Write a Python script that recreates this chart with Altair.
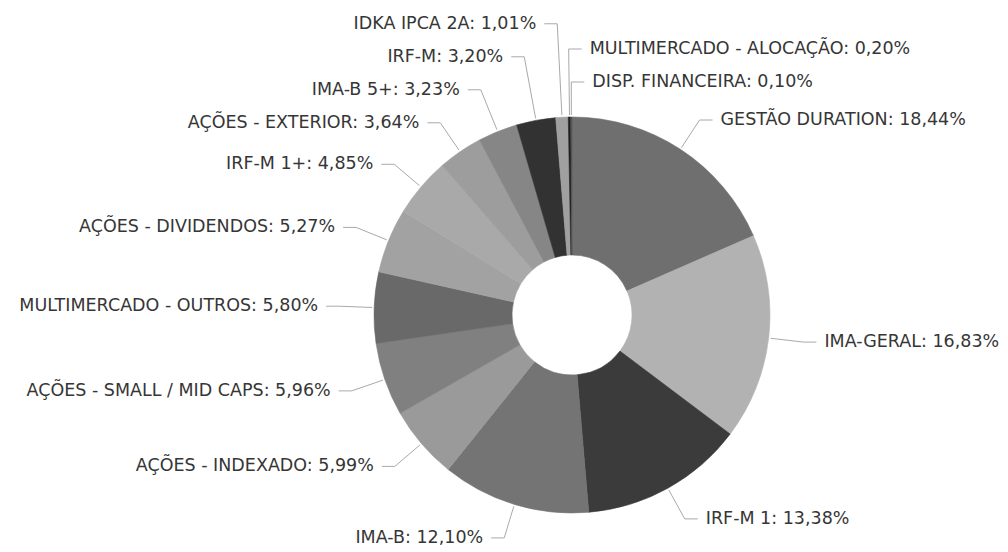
import math
import altair as alt
import pandas as pd

# ---- data ----
names = [
    "GESTÃO DURATION", "IMA-GERAL", "IRF-M 1", "IMA-B", "AÇÕES - INDEXADO",
    "AÇÕES - SMALL / MID CAPS", "MULTIMERCADO - OUTROS", "AÇÕES - DIVIDENDOS",
    "IRF-M 1+", "AÇÕES - EXTERIOR", "IMA-B 5+", "IRF-M", "IDKA IPCA 2A",
    "MULTIMERCADO - ALOCAÇÃO", "DISP. FINANCEIRA",
]
values = [18.44, 16.83, 13.38, 12.10, 5.99, 5.96, 5.80, 5.27, 4.85, 3.64, 3.23, 3.20, 1.01, 0.20, 0.10]
shades = [
    "#6f6f6f", "#b2b2b2", "#3b3b3b", "#747474", "#9a9a9a",
    "#808080", "#696969", "#a2a2a2", "#a9a9a9", "#9d9d9d",
    "#868686", "#323232", "#a0a0a0", "#1e1e1e", "#555555",
]

# ---- layout constants ----
W, H = 1008, 552
CX, CY = 572, 315          # donut centre in pixels
R_OUT, R_IN = 198, 60
R_ANCHOR, R_ELBOW = 200, 233
GAP, HSEG, PAD = 33, 13, 8

total = sum(values)
rows = []
cum = 0.0
for i, (n, v) in enumerate(zip(names, values)):
    mid = (cum + v / 2) / total * 2 * math.pi
    cum += v
    s, c = math.sin(mid), math.cos(mid)
    side = "right" if s > -0.02 else "left"
    key = (mid if mid < math.pi else mid - 2 * math.pi) if side == "right" else mid
    rows.append(dict(idx=i, name=n, value=v, s=s, c=c, side=side, key=key,
                     ax=R_ANCHOR * s, ay=R_ANCHOR * c,
                     ex=R_ELBOW * s, ey=R_ELBOW * c))

# push overlapping labels upward (bottom -> top on each side)
for side, rev in (("left", False), ("right", True)):
    grp = sorted([r for r in rows if r["side"] == side], key=lambda r: r["key"], reverse=rev)
    prev = None
    for r in grp:
        if prev is not None and r["ey"] < prev + GAP:
            new = prev + GAP
            if abs(r["c"]) > 0.3:
                r["ex"] = new / r["c"] * r["s"]
            r["ey"] = new
        prev = r["ey"]

line_rows, label_rows = [], []
for r in rows:
    sign = 1 if r["side"] == "right" else -1
    lx = r["ex"] + sign * HSEG
    line_rows += [
        dict(name=r["name"], step=0, x=r["ax"], y=r["ay"]),
        dict(name=r["name"], step=1, x=r["ex"], y=r["ey"]),
        dict(name=r["name"], step=2, x=lx, y=r["ey"]),
    ]
    pct = f"{r['value']:.2f}".replace(".", ",")
    label_rows.append(dict(
        name=r["name"], side=r["side"], tx=lx + sign * PAD, ty=r["ey"],
        label=f"{r['name']}: {pct}%",
    ))

slices = pd.DataFrame({"idx": list(range(len(names))), "name": names, "value": values})
lines = pd.DataFrame(line_rows)
labels = pd.DataFrame(label_rows)

xs = alt.Scale(domain=[-CX, W - CX], nice=False, zero=False)
ys = alt.Scale(domain=[CY - H, CY], nice=False, zero=False)
shade_scale = alt.Scale(domain=names, range=shades)

arc = alt.Chart(slices).mark_arc(innerRadius=R_IN, outerRadius=R_OUT, strokeWidth=0.6).encode(
    theta=alt.Theta("value:Q", stack=True),
    order=alt.Order("idx:Q"),
    color=alt.Color("name:N", scale=shade_scale, legend=None),
    stroke=alt.Stroke("name:N", scale=shade_scale, legend=None),
    x=alt.XDatum(0, type="quantitative", scale=xs, axis=None),
    y=alt.YDatum(0, type="quantitative", scale=ys, axis=None),
)

leaders = alt.Chart(lines).mark_line(color="#a9a9a9", strokeWidth=1).encode(
    x=alt.X("x:Q", scale=xs, axis=None),
    y=alt.Y("y:Q", scale=ys, axis=None),
    detail="name:N",
    order="step:Q",
)

text_style = dict(baseline="middle", font="DejaVu Sans", fontSize=17.5, color="#363636")
left_text = alt.Chart(labels).transform_filter(alt.datum.side == "left").mark_text(
    align="right", **text_style).encode(
    x=alt.X("tx:Q", scale=xs, axis=None),
    y=alt.Y("ty:Q", scale=ys, axis=None),
    text="label:N",
)
right_text = alt.Chart(labels).transform_filter(alt.datum.side == "right").mark_text(
    align="left", **text_style).encode(
    x=alt.X("tx:Q", scale=xs, axis=None),
    y=alt.Y("ty:Q", scale=ys, axis=None),
    text="label:N",
)

chart = alt.layer(arc, leaders, left_text, right_text).properties(
    width=W, height=H, padding=0, autosize="none", background="white"
).configure_view(strokeWidth=0)

chart.save("out.html", embed_options={"renderer": "svg", "actions": False})
